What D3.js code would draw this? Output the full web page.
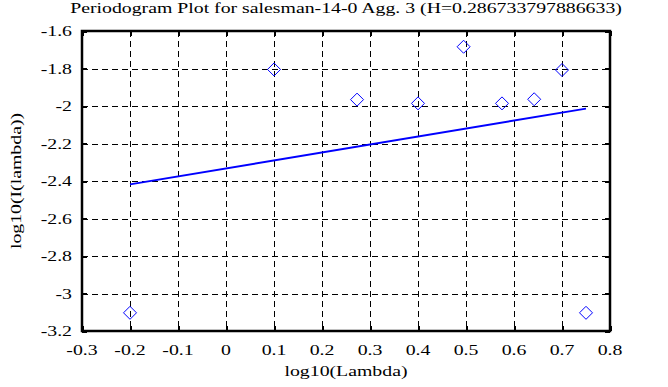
<!DOCTYPE html>
<html><head><meta charset="utf-8">
<script src="https://cdn.jsdelivr.net/npm/d3@7"></script>
<style>body{margin:0;background:#fff}svg{display:block}text{font-family:"Liberation Serif","Times New Roman",serif;fill:#000}</style>
</head><body>
<script>
const title = "Periodogram Plot for salesman-14-0 Agg. 3 (H=0.286733797886633)";
const xLabel = "log10(Lambda)";
const yLabel = "log10(I(lambda))";
const xTicks = [-0.3,-0.2,-0.1,0,0.1,0.2,0.3,0.4,0.5,0.6,0.7,0.8];
const yTicks = [-1.6,-1.8,-2,-2.2,-2.4,-2.6,-2.8,-3,-3.2];
const pointX = [-0.2, 0.1, 0.273, 0.4, 0.495, 0.575, 0.642, 0.7, 0.75];
const pointY = [-3.103, -1.805, -1.966, -1.986, -1.684, -1.986, -1.964, -1.808, -3.103];
const fitX = [-0.2, 0.75];
const fitY = [-2.418, -2.014];

const W = 668, H = 387;
const m = {l:82, r:58, t:31, b:56};
const FS = 15, SX = 1.32;
const svg = d3.select("body").append("svg").attr("width", W).attr("height", H);
const x = d3.scaleLinear().domain([-0.3, 0.8]).range([m.l, W - m.r]);
const y = d3.scaleLinear().domain([-3.2, -1.6]).range([H - m.b, m.t]);
const fmt = d => String(d);

function label(parent, tx, ty, txt, anchor, rot) {
  const gg = parent.append("g")
    .attr("transform", `translate(${tx},${ty})` + (rot ? ` rotate(${rot})` : "") + ` scale(${SX},1)`);
  gg.append("text").attr("x", 0).attr("y", 0).attr("text-anchor", anchor)
    .attr("font-size", FS).text(txt);
}

// grid
const g = svg.append("g").attr("shape-rendering", "crispEdges");
g.selectAll(".gx").data(xTicks.slice(1, -1)).join("line")
  .attr("x1", d => x(d) + 0.5).attr("x2", d => x(d) + 0.5).attr("y1", y(-1.6)).attr("y2", y(-3.2))
  .attr("stroke", "#000").attr("stroke-width", 1).attr("stroke-dasharray", "6,4");
g.selectAll(".gy").data(yTicks.slice(1, -1)).join("line")
  .attr("y1", d => y(d) + 0.5).attr("y2", d => y(d) + 0.5).attr("x1", x(-0.3)).attr("x2", x(0.8))
  .attr("stroke", "#000").attr("stroke-width", 1).attr("stroke-dasharray", "6,4");

// inward ticks
const tl = 5;
const tk = svg.append("g").attr("shape-rendering", "crispEdges");
tk.selectAll(".tb").data(xTicks).join("line")
  .attr("x1", d => x(d) + 0.5).attr("x2", d => x(d) + 0.5).attr("y1", y(-3.2)).attr("y2", y(-3.2) - tl)
  .attr("stroke", "#000").attr("stroke-width", 2);
tk.selectAll(".tt").data(xTicks).join("line")
  .attr("x1", d => x(d) + 0.5).attr("x2", d => x(d) + 0.5).attr("y1", y(-1.6)).attr("y2", y(-1.6) + tl)
  .attr("stroke", "#000").attr("stroke-width", 2);
tk.selectAll(".tlft").data(yTicks).join("line")
  .attr("y1", d => y(d) + 0.5).attr("y2", d => y(d) + 0.5).attr("x1", x(-0.3)).attr("x2", x(-0.3) + tl)
  .attr("stroke", "#000").attr("stroke-width", 2);
tk.selectAll(".trgt").data(yTicks).join("line")
  .attr("y1", d => y(d) + 0.5).attr("y2", d => y(d) + 0.5).attr("x1", x(0.8)).attr("x2", x(0.8) - tl)
  .attr("stroke", "#000").attr("stroke-width", 2);

// frame
svg.append("rect").attr("x", x(-0.3)).attr("y", y(-1.6))
  .attr("width", x(0.8) - x(-0.3)).attr("height", y(-3.2) - y(-1.6))
  .attr("fill", "none").attr("stroke", "#000").attr("stroke-width", 2.5);

// tick labels
const xl = svg.append("g");
xTicks.forEach(d => label(xl, x(d), y(-3.2) + 24, fmt(d), "middle"));
const yl = svg.append("g");
yTicks.forEach(d => label(yl, x(-0.3) - 10, y(d) + 5, fmt(d), "end"));

// fit line
const line = d3.line().x(d => x(d[0])).y(d => y(d[1]));
svg.append("path").datum(fitX.map((v, i) => [v, fitY[i]])).attr("d", line)
  .attr("fill", "none").attr("stroke", "#0000ff").attr("stroke-width", 2);

// diamonds
const s = 6.5;
svg.append("g").selectAll("path").data(pointX.map((v, i) => [v, pointY[i]])).join("path")
  .attr("d", d => {
    const cx = x(d[0]), cy = y(d[1]);
    return `M${cx},${cy - s}L${cx + s},${cy}L${cx},${cy + s}L${cx - s},${cy}Z`;
  })
  .attr("fill", "none").attr("stroke", "#0000ff").attr("stroke-width", 1);

// titles
const cx = (x(-0.3) + x(0.8)) / 2;
label(svg, cx, 13, title, "middle");
label(svg, cx, 376, xLabel, "middle");
label(svg, 21, (y(-1.6) + y(-3.2)) / 2, yLabel, "middle", -90);
</script>
</body></html>
